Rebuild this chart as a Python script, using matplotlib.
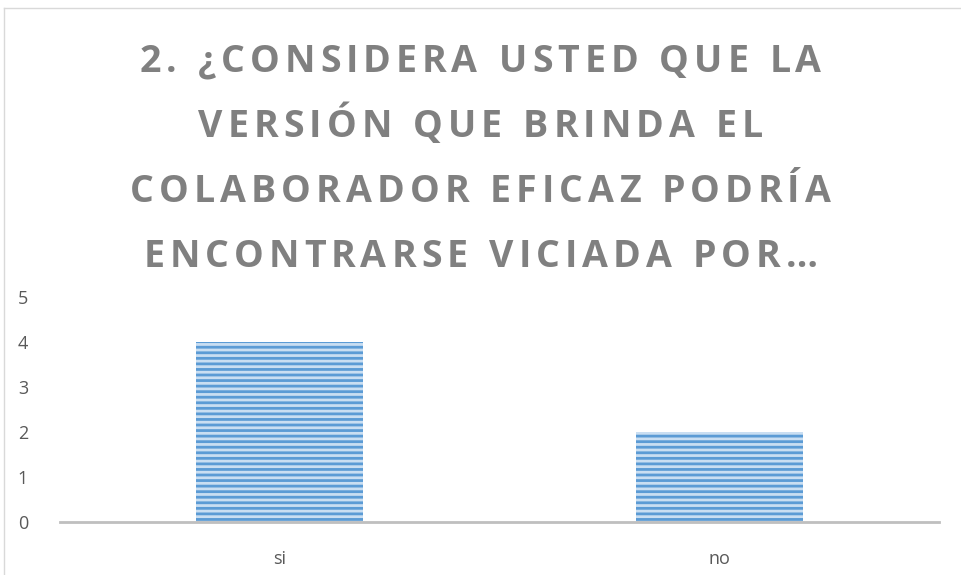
import matplotlib.pyplot as plt
from matplotlib.lines import Line2D

plt.rcParams['font.family'] = ['Open Sans', 'DejaVu Sans']
plt.rcParams['hatch.linewidth'] = 2.0

categorias = ['si', 'no']
valores = [4, 2]
titulo = ['2. ¿CONSIDERA USTED QUE LA',
          'VERSIÓN QUE BRINDA EL',
          'COLABORADOR EFICAZ PODRÍA',
          'ENCONTRARSE VICIADA POR…']

fig = plt.figure(figsize=(9.61, 5.75), dpi=100)
W, H = 961, 575
ax = fig.add_axes([60 / W, 1 - 522 / H, 879 / W, 225 / H])

x = range(len(categorias))
ax.bar(x, valores, width=0.38, color='#c9def2', edgecolor='#5b9bd5',
       hatch='---', linewidth=0)
ax.set_xlim(-0.5, 1.5)
ax.set_ylim(0, 5)
ax.set_xticks(list(x))
ax.set_xticklabels(categorias)
ax.set_yticks(range(6))
for s in ['top', 'right', 'left']:
    ax.spines[s].set_visible(False)
ax.spines['bottom'].set_color('#bfbfbf')
ax.spines['bottom'].set_linewidth(2)
ax.tick_params(length=0, colors='#595959', labelsize=13)
ax.tick_params(axis='x', pad=20)
ax.tick_params(axis='y', pad=23)

# titulo con espaciado entre letras (se coloca letra por letra)
renderer = fig.canvas.get_renderer()
espacio = 5.0
estilo = dict(fontsize=27, fontweight='bold', color='#808080', va='center', ha='left')
for i, linea in enumerate(titulo):
    y = 1 - (62 + i * 65) / H
    letras = [fig.text(0, y, c, **estilo) for c in linea]
    anchos = []
    for t, c in zip(letras, linea):
        if c == ' ':
            t.set_text('n')
            w = t.get_window_extent(renderer).width * 0.45
            t.set_text(' ')
        else:
            w = t.get_window_extent(renderer).width
        anchos.append(w)
    total = sum(anchos) + espacio * (len(linea) - 1)
    xpos = (W - total) / 2
    for t, w in zip(letras, anchos):
        t.set_x(xpos / W)
        xpos += w + espacio

# marco del grafico
fig.add_artist(Line2D([4 / W, 1], [1 - 8 / H, 1 - 8 / H], color='#d9d9d9', lw=1))
fig.add_artist(Line2D([4 / W, 4 / W], [0, 1 - 8 / H], color='#d9d9d9', lw=1))

fig.savefig('out.png', dpi=100)
